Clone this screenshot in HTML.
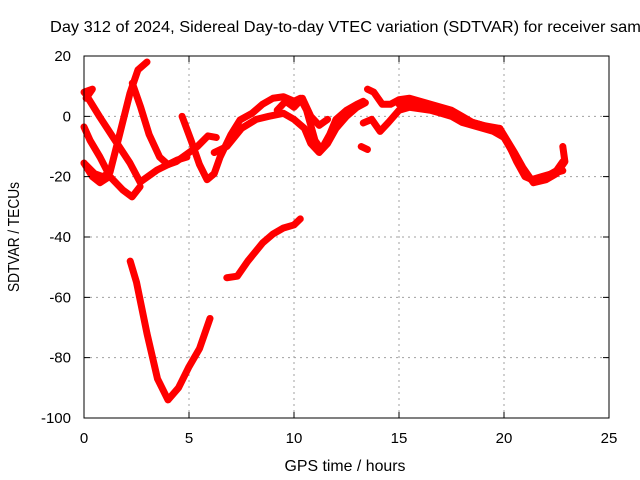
<!DOCTYPE html>
<html><head><meta charset="utf-8"><style>
body{margin:0;background:#fff}
svg{display:block;font-family:"Liberation Sans",sans-serif}
</style></head><body>
<svg id="chart" width="640" height="480" viewBox="0 0 640 480" xmlns="http://www.w3.org/2000/svg">
<rect width="640" height="480" fill="#fff"/>
<text x="50" y="32" font-size="16" textLength="600" lengthAdjust="spacingAndGlyphs" fill="#000">Day 312 of 2024, Sidereal Day-to-day VTEC variation (SDTVAR) for receiver samo</text>
<g id="grid"></g>
<g id="series"></g>
<rect x="84" y="56" width="525" height="362" fill="none" stroke="#000" stroke-width="1"/>
<g id="ticks"></g>
<text x="345" y="471" font-size="16" textLength="121" lengthAdjust="spacingAndGlyphs" text-anchor="middle">GPS time / hours</text>
<text transform="translate(19,237) rotate(-90)" font-size="16" textLength="110" lengthAdjust="spacingAndGlyphs" text-anchor="middle">SDTVAR / TECUs</text>
</svg>
<script>
const xTicks=[0,5,10,15,20,25];
const yTicks=[20,0,-20,-40,-60,-80,-100];
const s1=[[0.05,7.7],[0.76,-0.3],[1.38,-6.9],[2.19,-15.5],[2.67,-21.8],[3.48,-17.8],[4.43,-14.5],[4.9,-13.5]];
const s2=[[0.0,-15.5],[0.5,-19],[0.9,-20],[1.24,-18.5],[1.71,-5.6],[2.19,7.7],[2.57,15.4],[3,18]];
const s3=[[2.3,11],[2.7,3],[3.1,-6],[3.6,-13.5],[4.0,-16],[4.4,-15],[4.9,-12.5],[5.4,-10],[5.9,-6.5],[6.3,-7]];
const s4=[[0,-3.5],[0.29,-8],[0.76,-13.5],[1.24,-20],[1.86,-24.5],[2.29,-26.7],[2.67,-23.3]];
const s5=[[0,-15.5],[0.4,-20],[0.76,-22],[1.2,-20]];
const s6=[[0,8],[0.4,9],[0.1,6]];
const s7=[[4.67,0],[5.1,-8],[5.5,-16],[5.86,-21],[6.2,-19],[6.48,-13.5],[7.0,-6],[7.43,-1.2],[8.0,1],[8.5,4],[9,6],[9.5,6.5],[10,5],[10.3,6],[10.6,2],[11,-8],[11.3,-11],[11.7,-6],[12,-1],[12.5,2],[13,4],[13.3,5]];
const s8=[[6.2,-12],[6.8,-10],[7.5,-4],[8.2,-1],[8.8,0],[9.5,1],[10,-1],[10.5,-4],[10.8,-9],[11.2,-12],[11.6,-9],[12,-4],[12.5,0],[13,3],[13.4,4.5]];
const s9=[[13.5,9],[13.8,8],[14.2,4],[14.6,4],[15,5.5],[15.5,6],[16,5],[16.5,4],[17,3],[17.5,2],[18,0],[18.5,-2],[19,-3],[19.5,-4],[19.8,-5],[20.2,-9],[20.6,-15],[21,-20],[21.5,-21.5],[22,-20],[22.5,-18],[22.8,-15]];
const s10=[[13.3,-2.2],[13.7,-1],[14.1,-5],[14.5,-2],[15,2],[15.5,3],[16,2.5],[16.5,2],[17,1],[17.5,0],[18,-2],[18.5,-3],[19,-4],[19.5,-5],[20,-7],[20.5,-13],[20.8,-17],[21.3,-21],[21.8,-20],[22.3,-19],[22.8,-18]];
const s11=[[9.2,2],[9.6,5],[10,3],[10.4,6],[10.8,0],[11.2,-3],[11.6,-1]];
const s12=[[13.2,-10],[13.5,-11]];
const s13=[[2.2,-48],[2.5,-55],[3,-72],[3.5,-87],[4,-94],[4.5,-90],[5,-83],[5.5,-77],[6,-67]];
const s14=[[6.8,-53.5],[7.3,-53],[7.8,-48],[8.5,-42],[9,-39],[9.5,-37],[10,-36],[10.3,-34]];
const s15=[[19.8,-4],[20.5,-12],[20.9,-17],[21.4,-22],[22,-21],[22.5,-19],[22.9,-15],[22.8,-10]];
const s16=[[15,4],[16,3.5],[17,2],[18,-1],[19,-3],[19.8,-4]];
const allSeries=[s1,s2,s3,s4,s5,s6,s7,s8,s9,s10,s11,s12,s13,s14,s15,s16];
const X=h=>84+21*h;
const Y=v=>56+(20-v)*(362/120);
const NS="http://www.w3.org/2000/svg";
const grid=document.getElementById('grid'),ticks=document.getElementById('ticks'),ser=document.getElementById('series');
xTicks.forEach(t=>{
  const x=X(t);
  if(t>0&&t<25){const l=document.createElementNS(NS,'line');
  
  
  l.setAttribute('x1',x);l.setAttribute('x2',x);l.setAttribute('y1',56);l.setAttribute('y2',418);
  l.setAttribute('stroke','#a0a0a0');l.setAttribute('stroke-dasharray','2,4');grid.appendChild(l);}
  const tk=document.createElementNS(NS,'path');
  
  
  tk.setAttribute('d',`M${x},418v-6M${x},56v6`);tk.setAttribute('stroke','#000');ticks.appendChild(tk);
  const tx=document.createElementNS(NS,'text');
  
  
  tx.setAttribute('x',x);tx.setAttribute('y',443);tx.setAttribute('font-size','15');tx.setAttribute('text-anchor','middle');
  tx.textContent=t;ticks.appendChild(tx);
});
yTicks.forEach(t=>{
  const y=Y(t);
  if(t<20&&t>-100){const l=document.createElementNS(NS,'line');
  
  
  l.setAttribute('x1',84);l.setAttribute('x2',609);l.setAttribute('y1',y);l.setAttribute('y2',y);
  l.setAttribute('stroke','#a0a0a0');l.setAttribute('stroke-dasharray','2,4');grid.appendChild(l);}
  const tk=document.createElementNS(NS,'path');
  
  
  tk.setAttribute('d',`M84,${y}h6M609,${y}h-6`);tk.setAttribute('stroke','#000');ticks.appendChild(tk);
  const tx=document.createElementNS(NS,'text');
  
  
  tx.setAttribute('x',71);tx.setAttribute('y',y+5);tx.setAttribute('font-size','15');tx.setAttribute('text-anchor','end');
  tx.textContent=t;ticks.appendChild(tx);
});
allSeries.forEach(s=>{
  const p=document.createElementNS(NS,'polyline');
  
  
  p.setAttribute('points',s.map(d=>X(d[0])+','+Y(d[1])).join(' '));
  p.setAttribute('fill','none');p.setAttribute('stroke','#ff0000');p.setAttribute('stroke-width','7');
  p.setAttribute('stroke-linejoin','round');p.setAttribute('stroke-linecap','round');
  ser.appendChild(p);
});
</script>
</body></html>
